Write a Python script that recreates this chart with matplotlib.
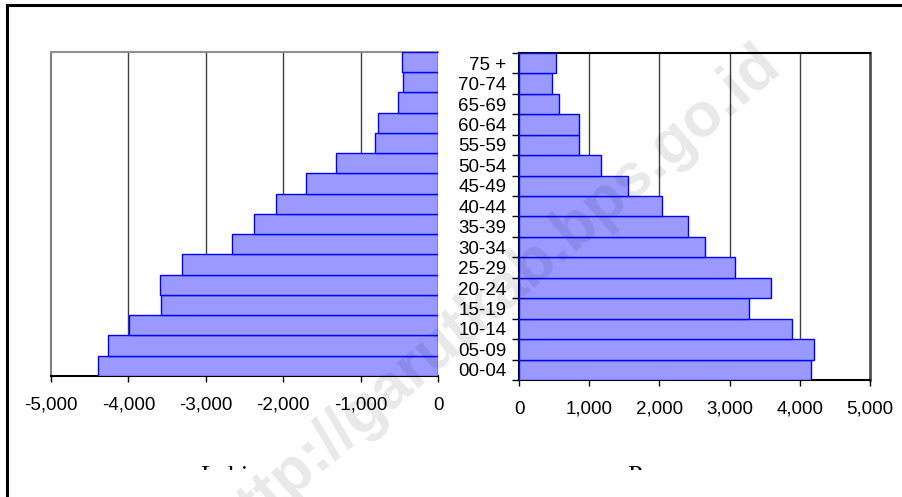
import matplotlib
matplotlib.use("Agg")

import numpy as np
import matplotlib.pyplot as plt
from matplotlib.lines import Line2D
from matplotlib.transforms import Bbox, TransformedBbox


# -------------------------------------------------
# Matplotlib configuration
# -------------------------------------------------

plt.rcParams['font.family'] = 'Liberation Sans'
plt.rcParams['font.size'] = 13.5


# -------------------------------------------------
# Data (bottom -> top)
# -------------------------------------------------

AGE_GROUPS = [
    '00-04', '05-09', '10-14', '15-19', '20-24', '25-29', '30-34', '35-39',
    '40-44', '45-49', '50-54', '55-59', '60-64', '65-69', '70-74', '75 +'
]

MALE = [4395, 4265, 3990, 3573, 3590, 3310, 2657, 2377,
        2098, 1707, 1316, 820, 778, 516, 451, 472]

FEMALE = [4160, 4205, 3895, 3270, 3585, 3078, 2650, 2410,
          2030, 1552, 1170, 858, 860, 570, 473, 528]

MALE_TICKS = [-5000, -4000, -3000, -2000, -1000, 0]
MALE_TICK_LABELS = ['-5,000', '-4,000', '-3,000', '-2,000', '-1,000', '0']

FEMALE_TICKS = [0, 1000, 2000, 3000, 4000, 5000]
FEMALE_TICK_LABELS = ['0', '1,000', '2,000', '3,000', '4,000', '5,000']

PANEL_TITLES = ['Laki', 'Perempuan']

WATERMARK = 'http://garutkab.bps.go.id'


# -------------------------------------------------
# Styles
# -------------------------------------------------

BAR_FACE = '#9999ff'
BAR_EDGE = '#0000ff'
GRID_COLOR = '#404040'


def style_bars(ax, values, sign):

    y = np.arange(len(AGE_GROUPS))

    ax.barh(
        y,
        sign * np.array(values),
        height=1.0,
        color=BAR_FACE,
        edgecolor=BAR_EDGE,
        linewidth=1.0,
        zorder=3
    )

    ax.set_ylim(-0.5, len(AGE_GROUPS) - 0.5)


def main():

    fig = plt.figure(figsize=(9.03, 4.97), dpi=100)

    # -----------------------------
    # Left panel (male)
    # -----------------------------

    ax_l = fig.add_axes([0.0565, 0.2435, 0.4286, 0.652])

    style_bars(ax_l, MALE, -1)

    ax_l.set_xlim(-5000, 0)
    ax_l.set_xticks(MALE_TICKS)
    ax_l.set_xticklabels(MALE_TICK_LABELS)
    ax_l.set_yticks([])

    for x in MALE_TICKS[1:-1]:
        ax_l.axvline(x, color=GRID_COLOR, lw=1.0, zorder=1)

    ax_l.spines['right'].set_visible(False)
    ax_l.spines['top'].set_color('#909090')
    ax_l.spines['left'].set_color('#808080')
    ax_l.spines['top'].set_linewidth(1.5)
    ax_l.spines['left'].set_linewidth(1.5)
    ax_l.spines['bottom'].set_color('black')
    ax_l.spines['bottom'].set_linewidth(1.5)

    ax_l.tick_params(axis='x', direction='out', length=4, width=1,
                     pad=11, color='black')

    # -----------------------------
    # Right panel (female)
    # -----------------------------

    ax_r = fig.add_axes([0.5748, 0.2354, 0.3887, 0.658])

    style_bars(ax_r, FEMALE, 1)

    ax_r.set_xlim(0, 5000)
    ax_r.set_xticks(FEMALE_TICKS)
    ax_r.set_xticklabels(FEMALE_TICK_LABELS)

    n = len(AGE_GROUPS)
    ax_r.set_yticks(np.arange(n + 1) - 0.5)
    ax_r.set_yticklabels([])
    ax_r.set_yticks(np.arange(n), minor=True)
    ax_r.set_yticklabels(AGE_GROUPS, minor=True)

    for x in FEMALE_TICKS[1:-1]:
        ax_r.axvline(x, color=GRID_COLOR, lw=1.0, zorder=1)

    for side in ['top', 'left', 'bottom']:
        ax_r.spines[side].set_color('black')
        ax_r.spines[side].set_linewidth(1.5)
    ax_r.spines['right'].set_color('#505050')
    ax_r.spines['right'].set_linewidth(2)

    ax_r.tick_params(axis='x', direction='out', length=4, width=1,
                     pad=11, color='black')
    ax_r.tick_params(axis='y', which='major', direction='out',
                     length=5, width=1, color='black')
    ax_r.tick_params(axis='y', which='minor', length=0, pad=9)

    # -----------------------------
    # Outer frame (top and left only)
    # -----------------------------

    fig.add_artist(Line2D([7 / 903, 1.0], [1 - 5 / 497, 1 - 5 / 497],
                          color='black', lw=2.2, transform=fig.transFigure))
    fig.add_artist(Line2D([7 / 903, 7 / 903], [1 - 5 / 497, 0.0],
                          color='black', lw=2.2, transform=fig.transFigure))

    # -----------------------------
    # Panel titles, clipped at the bottom like the source
    # -----------------------------

    clip = TransformedBbox(Bbox([[0, 1 - 470 / 497], [1, 1]]), fig.transFigure)

    for title, x in zip(PANEL_TITLES, [200 / 903, 627 / 903]):
        t = fig.text(x, 1 - 466 / 497, title, ha='left', va='top',
                     fontsize=19, family='Liberation Serif')
        t.set_clip_box(clip)
        t.set_clip_on(True)

    # -----------------------------
    # Watermark
    # -----------------------------

    fig.text(0.548, 0.405, WATERMARK, ha='center', va='center',
             rotation=41, fontsize=45, fontweight='bold',
             color='black', alpha=0.09, zorder=10)

    fig.savefig('out.png', dpi=100, facecolor='white')
    plt.close(fig)


if __name__ == '__main__':
    main()
